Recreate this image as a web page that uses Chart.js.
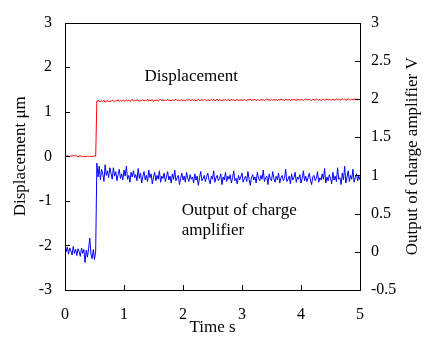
<!DOCTYPE html>
<html>
<head>
<meta charset="utf-8">
<script src="https://cdn.jsdelivr.net/npm/chart.js@4.4.1/dist/chart.umd.min.js"></script>
<style>
    body { margin: 0; background: #ffffff; }
    #contenedor { width: 436px; height: 352px; }
</style>
</head>
<body>
<div id="contenedor"><canvas id="stepChart" width="436" height="352"></canvas></div>
<script>
// Tiempos de muestreo (s)
const tiempos = [
    0, 0.02, 0.04, 0.06, 0.08, 0.1, 0.12, 0.14, 0.16, 0.18,
    0.2, 0.22, 0.24, 0.26, 0.28, 0.3, 0.32, 0.34, 0.36, 0.38,
    0.4, 0.42, 0.44, 0.46, 0.48, 0.5, 0.52, 0.54, 0.56, 0.58,
    0.6, 0.62, 0.64, 0.66, 0.68, 0.7, 0.72, 0.74, 0.76, 0.78,
    0.8, 0.82, 0.84, 0.86, 0.88, 0.9, 0.92, 0.94, 0.96, 0.98,
    1, 1.02, 1.04, 1.06, 1.08, 1.1, 1.12, 1.14, 1.16, 1.18,
    1.2, 1.22, 1.24, 1.26, 1.28, 1.3, 1.32, 1.34, 1.36, 1.38,
    1.4, 1.42, 1.44, 1.46, 1.48, 1.5, 1.52, 1.54, 1.56, 1.58,
    1.6, 1.62, 1.64, 1.66, 1.68, 1.7, 1.72, 1.74, 1.76, 1.78,
    1.8, 1.82, 1.84, 1.86, 1.88, 1.9, 1.92, 1.94, 1.96, 1.98,
    2, 2.02, 2.04, 2.06, 2.08, 2.1, 2.12, 2.14, 2.16, 2.18,
    2.2, 2.22, 2.24, 2.26, 2.28, 2.3, 2.32, 2.34, 2.36, 2.38,
    2.4, 2.42, 2.44, 2.46, 2.48, 2.5, 2.52, 2.54, 2.56, 2.58,
    2.6, 2.62, 2.64, 2.66, 2.68, 2.7, 2.72, 2.74, 2.76, 2.78,
    2.8, 2.82, 2.84, 2.86, 2.88, 2.9, 2.92, 2.94, 2.96, 2.98,
    3, 3.02, 3.04, 3.06, 3.08, 3.1, 3.12, 3.14, 3.16, 3.18,
    3.2, 3.22, 3.24, 3.26, 3.28, 3.3, 3.32, 3.34, 3.36, 3.38,
    3.4, 3.42, 3.44, 3.46, 3.48, 3.5, 3.52, 3.54, 3.56, 3.58,
    3.6, 3.62, 3.64, 3.66, 3.68, 3.7, 3.72, 3.74, 3.76, 3.78,
    3.8, 3.82, 3.84, 3.86, 3.88, 3.9, 3.92, 3.94, 3.96, 3.98,
    4, 4.02, 4.04, 4.06, 4.08, 4.1, 4.12, 4.14, 4.16, 4.18,
    4.2, 4.22, 4.24, 4.26, 4.28, 4.3, 4.32, 4.34, 4.36, 4.38,
    4.4, 4.42, 4.44, 4.46, 4.48, 4.5, 4.52, 4.54, 4.56, 4.58,
    4.6, 4.62, 4.64, 4.66, 4.68, 4.7, 4.72, 4.74, 4.76, 4.78,
    4.8, 4.82, 4.84, 4.86, 4.88, 4.9, 4.92, 4.94, 4.96, 4.98,
    5
];

// Desplazamiento (um), eje izquierdo
const desplazamiento = [
    0.01, 0.0, 0.02, 0.0, -0.01, 0.01, 0.0, 0.02, 0.01, 0.03,
    0.0, -0.01, 0.0, 0.01, 0.0, -0.01, 0.0, 0.0, -0.01, 0.0,
    -0.01, 0.0, 0.0, -0.01, 0.0, 0.01, 0.0, 1.24, 1.25,
    1.24, 1.22, 1.25, 1.23, 1.26, 1.21, 1.24, 1.25, 1.22, 1.24,
    1.23, 1.26, 1.24, 1.22, 1.25, 1.24, 1.27, 1.23, 1.25, 1.24,
    1.26, 1.23, 1.25, 1.27, 1.24, 1.26, 1.23, 1.25, 1.28, 1.24,
    1.26, 1.24, 1.27, 1.25, 1.23, 1.26, 1.25, 1.27, 1.24, 1.26,
    1.25, 1.28, 1.24, 1.26, 1.25, 1.27, 1.23, 1.26, 1.25, 1.27,
    1.24, 1.26, 1.28, 1.25, 1.27, 1.24, 1.26, 1.25, 1.28, 1.25,
    1.26, 1.24, 1.27, 1.25, 1.26, 1.28, 1.25, 1.27, 1.24, 1.26,
    1.27, 1.25, 1.26, 1.24, 1.27, 1.26, 1.28, 1.25, 1.26, 1.27,
    1.25, 1.27, 1.24, 1.26, 1.28, 1.25, 1.26, 1.27, 1.25, 1.28,
    1.26, 1.24, 1.27, 1.26, 1.25, 1.28, 1.26, 1.27, 1.25, 1.26,
    1.28, 1.25, 1.27, 1.26, 1.24, 1.27, 1.26, 1.28, 1.25, 1.27,
    1.26, 1.25, 1.28, 1.26, 1.27, 1.25, 1.26, 1.28, 1.24, 1.27,
    1.26, 1.27, 1.25, 1.28, 1.26, 1.25, 1.27, 1.26, 1.29, 1.25,
    1.27, 1.26, 1.28, 1.25, 1.27, 1.26, 1.25, 1.28, 1.26, 1.27,
    1.25, 1.27, 1.29, 1.26, 1.27, 1.25, 1.28, 1.26, 1.27, 1.26,
    1.28, 1.25, 1.27, 1.26, 1.29, 1.26, 1.27, 1.25, 1.28, 1.27,
    1.26, 1.28, 1.25, 1.27, 1.26, 1.28, 1.27, 1.25, 1.29, 1.26,
    1.27, 1.26, 1.28, 1.25, 1.27, 1.29, 1.26, 1.27, 1.28, 1.26,
    1.25, 1.28, 1.27, 1.26, 1.29, 1.27, 1.26, 1.28, 1.25, 1.27,
    1.28, 1.26, 1.27, 1.29, 1.26, 1.28, 1.27, 1.26, 1.28, 1.27,
    1.26, 1.29, 1.27, 1.28, 1.26, 1.27, 1.29, 1.27, 1.28, 1.26,
    1.27, 1.29, 1.28, 1.26, 1.28, 1.27, 1.29, 1.27, 1.28, 1.27,
    1.28, 1.27
];

// Salida del amplificador de carga (V), eje derecho
const salidaAmplificador = [
    0.14, 0.0, 0.06, -0.03, 0.05, 0.01, -0.04, 0.07, -0.02, 0.03,
    -0.05, 0.04, 0.0, -0.06, 0.05, -0.02, 0.03, -0.14, 0.02, -0.07,
    0.04, 0.18, -0.03, -0.09, 0.03, -0.1, 0.01, 1.16, 0.98,
    1.12, 0.94, 1.08, 1.02, 0.92, 1.14, 1.0, 1.06, 0.97, 1.1,
    1.03, 0.95, 1.1, 0.99, 1.05, 0.93, 1.01, 1.08, 0.96, 1.02,
    0.94, 1.07, 0.99, 1.12, 0.95, 1.0, 0.91, 1.04, 0.98, 1.06,
    0.97, 1.01, 0.93, 1.09, 0.96, 1.03, 0.9, 0.99, 1.05, 0.94,
    1.0, 0.92, 1.07, 0.97, 1.02, 0.89, 0.98, 1.04, 0.93, 1.0,
    0.95, 1.06, 0.91, 0.99, 0.96, 1.03, 0.92, 0.98, 1.05, 0.94,
    0.99, 0.9, 1.02, 0.95, 1.07, 0.93, 0.97, 1.0, 0.88, 0.96,
    1.03, 0.94, 0.99, 0.91, 1.04, 0.96, 0.92, 1.01, 0.95, 0.98,
    0.9, 1.02, 0.94, 0.99, 0.87, 0.97, 1.05, 0.93, 0.96, 1.0,
    0.92, 0.98, 1.03, 0.94, 0.89, 0.99, 0.95, 1.06, 0.91, 0.97,
    1.0, 0.93, 0.96, 1.02, 0.88, 0.98, 0.94, 1.04, 0.92, 0.99,
    0.95, 1.01, 0.9, 0.97, 1.06, 0.93, 0.96, 0.89, 1.0, 0.94,
    0.98, 1.03, 0.91, 0.96, 0.99, 0.92, 1.05, 0.95, 0.87, 0.97,
    1.01, 0.94, 0.98, 0.9, 1.04, 0.96, 0.93, 1.0, 0.95, 1.07,
    0.92, 0.97, 0.99, 0.88, 1.02, 0.95, 0.93, 1.05, 0.96, 0.91,
    0.99, 0.94, 1.03, 0.9, 0.97, 1.0, 0.93, 0.96, 1.08, 0.92,
    0.95, 0.99, 0.89, 1.02, 0.94, 0.97, 1.04, 0.91, 0.98, 0.95,
    1.01, 0.9, 0.96, 1.06, 0.93, 0.99, 0.92, 0.97, 1.03, 0.94,
    0.88, 0.98, 1.0, 0.93, 0.96, 1.05, 0.91, 0.97, 0.94, 1.02,
    0.95, 1.09, 0.9, 0.98, 0.93, 1.01, 0.96, 0.89, 1.04, 0.94,
    0.99, 0.92, 1.1, 0.95, 0.97, 0.88, 1.03, 0.94, 1.12, 0.9,
    0.98, 1.06, 0.92, 1.0, 0.95, 1.08, 0.91, 0.97, 1.02, 0.93,
    0.99, 0.94
];

// Marcas de los ejes
const ticksTiempo = [0, 1, 2, 3, 4, 5];
const ticksDesplazamiento = [-3, -2, -1, 0, 1, 2, 3];
const ticksSalida = [-0.5, 0, 0.5, 1, 1.5, 2, 2.5, 3];

const fuente = "'Liberation Serif', 'Times New Roman', serif";

// Marco y marcas hacia adentro
const marcoPlugin = {
    id: 'marco',
    afterDraw(chart) {
        const ctx = chart.ctx;
        const area = chart.chartArea;
        const sx = chart.scales.x;
        const sy = chart.scales.y;
        const sy1 = chart.scales.y1;
        const largo = 5;

        ctx.save();
        ctx.strokeStyle = '#000000';
        ctx.lineWidth = 1;
        ctx.strokeRect(Math.round(area.left) + 0.5, Math.round(area.top) + 0.5,
            Math.round(area.right - area.left), Math.round(area.bottom - area.top));

        ctx.beginPath();
        ticksTiempo.forEach(v => {
            const px = Math.round(sx.getPixelForValue(v)) + 0.5;
            ctx.moveTo(px, area.bottom);
            ctx.lineTo(px, area.bottom - largo);
        });
        ticksDesplazamiento.forEach(v => {
            const py = Math.round(sy.getPixelForValue(v)) + 0.5;
            ctx.moveTo(area.left, py);
            ctx.lineTo(area.left + largo, py);
        });
        ticksSalida.forEach(v => {
            const py = Math.round(sy1.getPixelForValue(v)) + 0.5;
            ctx.moveTo(area.right, py);
            ctx.lineTo(area.right - largo, py);
        });
        ctx.stroke();

        // Textos dentro del grafico
        ctx.fillStyle = '#000000';
        ctx.font = "17px " + fuente;
        ctx.textBaseline = 'alphabetic';
        ctx.textAlign = 'center';
        ctx.fillText('Displacement', sx.getPixelForValue(2.14), sy.getPixelForValue(1.7));
        ctx.textAlign = 'left';
        ctx.fillText('Output of charge', sx.getPixelForValue(1.98), sy.getPixelForValue(-1.32));
        ctx.fillText('amplifier', sx.getPixelForValue(1.98), sy.getPixelForValue(-1.77));

        // Titulo del eje derecho (de abajo hacia arriba)
        ctx.translate(412.5, (area.top + area.bottom) / 2);
        ctx.rotate(-Math.PI / 2);
        ctx.textAlign = 'center';
        ctx.textBaseline = 'middle';
        ctx.fillText('Output of charge amplifier V', 0, 0);
        ctx.restore();
    }
};

const serieDesplazamiento = tiempos.map((t, i) => ({ x: t, y: desplazamiento[i] }));
const serieSalida = tiempos.map((t, i) => ({ x: t, y: salidaAmplificador[i] }));

const ctx = document.getElementById('stepChart').getContext('2d');
const stepChart = new Chart(ctx, {
    type: 'line',
    data: {
        datasets: [
            {
                label: 'Displacement',
                data: serieDesplazamiento,
                yAxisID: 'y',
                borderColor: '#ff0000',
                borderWidth: 1,
                pointRadius: 0,
                tension: 0
            },
            {
                label: 'Output of charge amplifier',
                data: serieSalida,
                yAxisID: 'y1',
                borderColor: '#0000ff',
                borderWidth: 1,
                pointRadius: 0,
                tension: 0
            }
        ]
    },
    options: {
        responsive: false,
        animation: false,
        layout: {
            padding: { top: 22, right: 0, bottom: 0, left: 0 }
        },
        plugins: {
            legend: { display: false },
            tooltip: { enabled: false }
        },
        scales: {
            x: {
                type: 'linear',
                min: 0,
                max: 5,
                afterFit: scale => { scale.height = 62; },
                afterBuildTicks: scale => { scale.ticks = ticksTiempo.map(v => ({ value: v })); },
                grid: { display: false, drawTicks: false },
                border: { display: false },
                ticks: { color: '#000000', padding: 15, font: { family: fuente, size: 16 }, callback: v => String(v) },
                title: {
                    display: true,
                    text: 'Time s',
                    color: '#000000',
                    padding: { top: 0, bottom: 14 },
                    font: { family: fuente, size: 17 }
                }
            },
            y: {
                position: 'left',
                min: -3,
                max: 3,
                afterFit: scale => { scale.width = 65; },
                afterBuildTicks: scale => { scale.ticks = ticksDesplazamiento.map(v => ({ value: v })); },
                grid: { display: false, drawTicks: false },
                border: { display: false },
                ticks: { color: '#000000', padding: 13, font: { family: fuente, size: 16 }, callback: v => String(v) },
                title: {
                    display: true,
                    text: 'Displacement μm',
                    color: '#000000',
                    padding: { top: 10, bottom: 0 },
                    font: { family: fuente, size: 17 }
                }
            },
            y1: {
                position: 'right',
                min: -0.5,
                max: 3,
                afterFit: scale => { scale.width = 76; },
                afterBuildTicks: scale => { scale.ticks = ticksSalida.map(v => ({ value: v })); },
                grid: { display: false, drawTicks: false },
                border: { display: false },
                ticks: { color: '#000000', padding: 11, font: { family: fuente, size: 16 }, callback: v => String(v) }
            }
        }
    },
    plugins: [marcoPlugin]
});
</script>
</body>
</html>
